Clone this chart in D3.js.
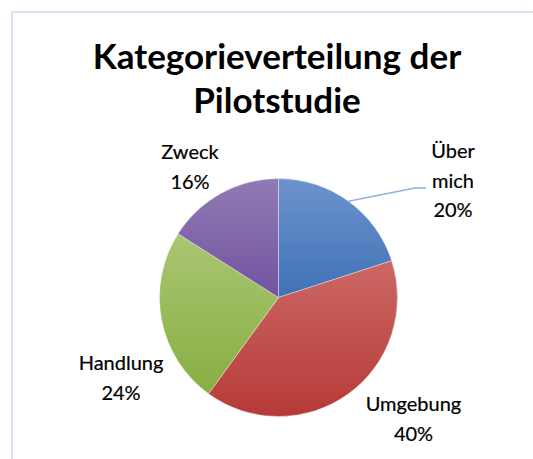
<!DOCTYPE html>
<html>
<head>
<meta charset="utf-8">
<script src="https://cdn.jsdelivr.net/npm/d3@7"></script>
<style>
  html, body { margin: 0; padding: 0; background: #fff; overflow: hidden; width: 533px; height: 459px; }
  #chart { position: absolute; left: 0; top: 0; }
  svg { display: block; }
</style>
</head>
<body>
<div id="chart"></div>
<script>
// Daten
const categories = ["Über mich", "Umgebung", "Handlung", "Zweck"];
const values = [20, 40, 24, 16];
const titleLines = ["Kategorieverteilung der", "Pilotstudie"];

// Farben (hell oben, dunkel unten)
const colorsTop = ["#6D93CC", "#CC6865", "#AAC672", "#907BB4"];
const colorsBottom = ["#3F72B6", "#B63A37", "#88AE42", "#7253A0"];

const width = 533;
const height = 459;
const cx = 278.5, cy = 297.5, radius = 119;

// Beschriftungen: Zeilenumbruch und Position relativ zur Kreismitte
const labelWrap = [["Über", "mich"], ["Umgebung"], ["Handlung"], ["Zweck"]];
const labelPos = [[174.5, -139.5], [135, 113.5], [-157.5, 72.5], [-88.5, -138.5]];
const lineGap = 29.5;

const svg = d3.select("#chart")
    .append("svg")
    .attr("width", width)
    .attr("height", height);

// Rahmen (oben und links sichtbar)
svg.append("path")
    .attr("d", `M12,${height} V12 H${width}`)
    .style("fill", "none")
    .style("stroke", "#D9E5F3")
    .style("stroke-width", 2);

// Titel
svg.append("text")
    .attr("x", 276)
    .attr("y", 69)
    .attr("text-anchor", "middle")
    .style("font-family", "Lato, 'Open Sans', sans-serif")
    .style("font-weight", "bold")
    .style("font-size", "35px")
    .selectAll("tspan")
    .data(titleLines)
    .join("tspan")
    .attr("x", 277)
    .attr("dy", (d, i) => i === 0 ? 0 : 44)
    .text(d => d);

// Verläufe
const defs = svg.append("defs");
categories.forEach((c, i) => {
    const g = defs.append("linearGradient")
        .attr("id", "grad" + i)
        .attr("x1", 0).attr("y1", 0)
        .attr("x2", 0).attr("y2", 1);
    g.append("stop").attr("offset", "0%").attr("stop-color", colorsTop[i]);
    g.append("stop").attr("offset", "100%").attr("stop-color", colorsBottom[i]);
});

const pie = d3.pie().sort(null).value(d => d);
const arcs = pie(values);
const arc = d3.arc().innerRadius(0).outerRadius(radius);

const g = svg.append("g").attr("transform", `translate(${cx},${cy})`);

g.selectAll(".slice")
    .data(arcs)
    .join("path")
    .attr("class", "slice")
    .attr("d", arc)
    .style("fill", (d, i) => `url(#grad${i})`)
    .style("stroke", "rgba(255,255,255,0.45)")
    .style("stroke-width", 0.8);

// Führungslinie für "Über mich"
const a0 = (arcs[0].startAngle + arcs[0].endAngle) / 2;
const leader = [
    [radius * Math.sin(a0), -radius * Math.cos(a0)],
    [136.5, -109.5],
    [147.5, -109.5]
];
g.append("path")
    .attr("d", d3.line()(leader))
    .style("fill", "none")
    .style("stroke", "#8DB4E3")
    .style("stroke-width", 1.5);

// Beschriftungen
const total = d3.sum(values);
const labels = g.selectAll(".label")
    .data(arcs)
    .join("text")
    .attr("class", "label")
    .attr("text-anchor", "middle")
    .style("font-family", "Lato, 'Open Sans', sans-serif")
    .style("font-size", "20px")
    .style("fill", "#000")
    .style("stroke", "#000")
    .style("stroke-width", 0.2);

labels.each(function (d, i) {
    const lines = labelWrap[i].concat([Math.round(d.value / total * 100) + "%"]);
    d3.select(this).selectAll("tspan")
        .data(lines)
        .join("tspan")
        .attr("x", labelPos[i][0])
        .attr("y", (t, j) => labelPos[i][1] + j * lineGap)
        .text(t => t);
});
</script>
</body>
</html>
